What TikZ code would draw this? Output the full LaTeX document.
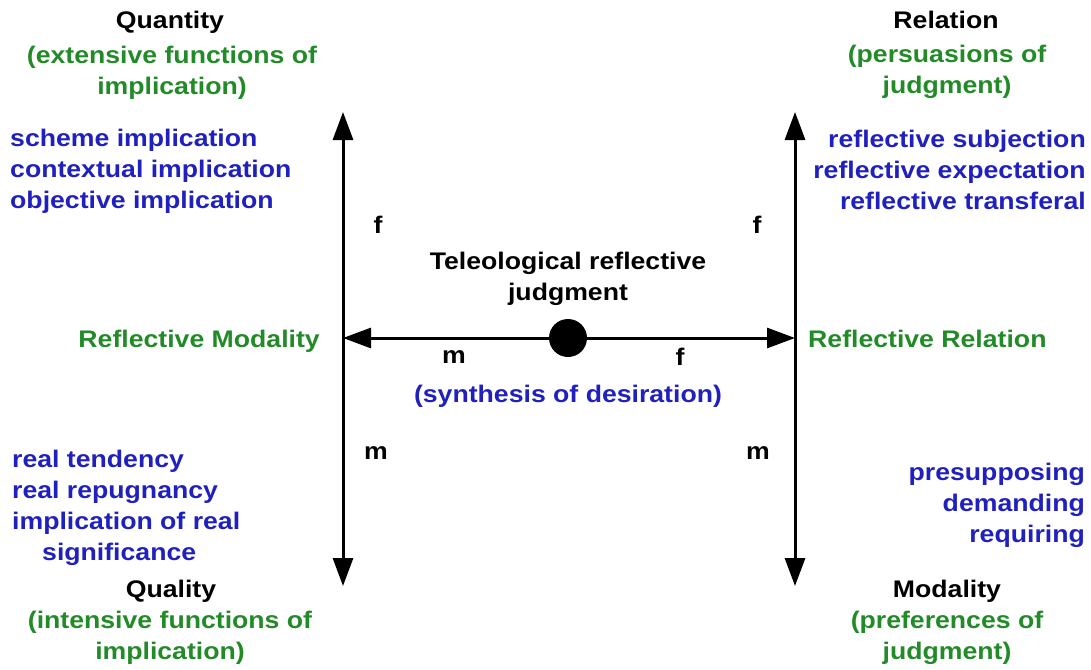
\documentclass[tikz,border=0pt]{standalone}
\usepackage{fontspec}
\setmainfont[FakeStretch=1.11]{Liberation Sans}
\usetikzlibrary{arrows.meta}
\definecolor{tgreen}{RGB}{34,139,40}
\definecolor{tblue}{RGB}{32,32,190}
\begin{document}
\begin{tikzpicture}[x=1pt,y=-1pt,
  txt/.style={inner sep=0pt, anchor=base, font=\bfseries\fontsize{24}{31}\selectfont, align=center},
  head/.style={txt, text=black},
  sub/.style={txt, text=tgreen},
  item/.style={txt, text=tblue},
  lbl/.style={txt, text=black},
  axis/.style={line width=3pt, {Triangle[length=28pt,width=20pt]}-{Triangle[length=28pt,width=20pt]}},
  conn/.style={line width=3pt, -{Triangle[length=28pt,width=20pt]}}
]
\useasboundingbox (0,0) rectangle (1091,669);
% axes
\coordinate (lt) at (343,112);
\coordinate (lb) at (343,586);
\coordinate (rt) at (795,112);
\coordinate (rb) at (795,586);
\coordinate (lm) at (343,338);
\coordinate (rm) at (795,338);
\draw[axis] (lt) -- (lb);
\draw[axis] (rt) -- (rb);
\node[circle, fill=black, minimum size=38pt, inner sep=0pt] (dot) at (568,338) {};
\draw[conn] (dot) -- (lm);
\draw[conn] (dot) -- (rm);
% corner headings (multi-line nodes: base = last line baseline)
\node[head] (quantity) at (170,29) {Quantity};
\node[sub] (quantitysub) at (172,94) {(extensive functions of\\implication)};
\node[head] (relation) at (946,29) {Relation};
\node[sub] (relationsub) at (947,93) {(persuasions of\\judgment)};
\node[head] (quality) at (171,597) {Quality};
\node[sub] (qualitysub) at (170,659) {(intensive functions of\\implication)};
\node[head] (modality) at (947,597) {Modality};
\node[sub] (modalitysub) at (947,659) {(preferences of\\judgment)};
% blue lists
\node[item, anchor=base west, align=left] (qlist) at (10,208) {scheme implication\\contextual implication\\objective implication};
\node[item, anchor=base east, align=right] (rlist) at (1086,209) {reflective subjection\\reflective expectation\\reflective transferal};
\node[item, anchor=base west, align=left] (qllist) at (12,560) {real tendency\\real repugnancy\\implication of real\\\hspace*{30pt}significance};
\node[item, anchor=base east, align=right] (mlist) at (1085,542) {presupposing\\demanding\\requiring};
% centre
\node[head] (tele) at (568,300) {Teleological reflective\\judgment};
\node[item] (synth) at (568,402) {(synthesis of desiration)};
\node[sub, anchor=base east] (refmod) at (320,347) {Reflective Modality};
\node[sub, anchor=base west] (refrel) at (808,347) {Reflective Relation};
% small labels
\node[lbl] (f1) at (378,233) {f};
\node[lbl] (f2) at (757,233) {f};
\node[lbl] (m1) at (454,363) {m};
\node[lbl] (f3) at (680,365) {f};
\node[lbl] (m2) at (376,459) {m};
\node[lbl] (m3) at (758,459) {m};
\end{tikzpicture}
\end{document}
